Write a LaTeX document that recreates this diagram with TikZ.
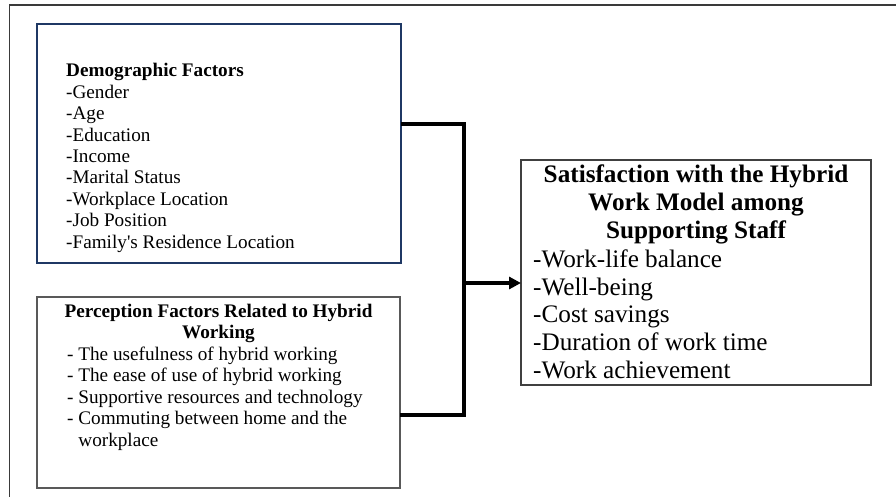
\documentclass[tikz,border=0pt]{standalone}
\usepackage{fontspec}
\setmainfont{Liberation Serif}
\usetikzlibrary{arrows.meta}

\definecolor{frameGray}{HTML}{3A3A3A}
\definecolor{demoBlue}{HTML}{1F3864}
\definecolor{percGray}{HTML}{595959}
\definecolor{satGray}{HTML}{404040}

\tikzset{
  box/.style={draw, rectangle, inner sep=0pt, outer sep=0pt},
  small/.style={inner sep=0pt, font=\fontsize{19.2}{21.4}\selectfont},
  smalltitle/.style={inner sep=0pt, font=\fontsize{19.2}{20.6}\selectfont\bfseries},
  large/.style={inner sep=0pt, font=\fontsize{25.2}{27.6}\selectfont},
  largetitle/.style={inner sep=0pt, font=\fontsize{25.2}{27.7}\selectfont\bfseries},
  conn/.style={draw=black, line width=3.2pt},
  tip/.style={-{Triangle[length=12pt,width=12pt]}}
}

\begin{document}
\begin{tikzpicture}[x=1pt, y=-1pt]
  \useasboundingbox (0,0) rectangle (896,497);

  % page frame (top and left rules)
  \draw[frameGray, line width=1pt] (9.5,497) -- (9.5,5);
  \draw[frameGray, line width=1.8pt] (9,5) -- (896,5);

  % the three boxes
  \node[box, draw=demoBlue, line width=1.6pt, minimum width=364pt, minimum height=239pt] (demo) at (219,143.5) {};
  \node[box, draw=percGray, line width=1.8pt, minimum width=363pt, minimum height=191pt] (perc) at (218.5,392.5) {};
  \node[box, draw=satGray, line width=1.2pt, minimum width=350pt, minimum height=225pt] (sat) at (696,272.5) {};

  % demographic factors
  \node[small, anchor=base west] (demotext) at (66,77) {\begin{tabular}[t]{@{}l@{}}
    \textbf{Demographic Factors}\\
    -Gender\\
    -Age\\
    -Education\\
    -Income\\
    -Marital Status\\
    -Workplace Location\\
    -Job Position\\
    -Family\textquotesingle s Residence Location
  \end{tabular}};

  % perception factors
  \node[smalltitle, anchor=base] (perctitle) at (218.5,317.7) {\begin{tabular}[t]{@{}c@{}}
    Perception Factors Related to Hybrid\\
    Working
  \end{tabular}};
  \node[small, anchor=base west, font=\fontsize{19.2}{21.6}\selectfont] (percitems) at (67,360) {\begin{tabular}[t]{@{}l@{}}
    - The usefulness of hybrid working\\
    - The ease of use of hybrid working\\
    - Supportive resources and technology\\
    - Commuting between home and the\\
    \hphantom{- }workplace
  \end{tabular}};

  % satisfaction outcome
  \node[largetitle, anchor=base] (sattitle) at (696,182.7) {\begin{tabular}[t]{@{}c@{}}
    Satisfaction with the Hybrid\\
    Work Model among\\
    Supporting Staff
  \end{tabular}};
  \node[large, anchor=base west] (satitems) at (533,267.7) {\begin{tabular}[t]{@{}l@{}}
    -Work-life balance\\
    -Well-being\\
    -Cost savings\\
    -Duration of work time\\
    -Work achievement
  \end{tabular}};

  % bracket joining both factor boxes, with the arrow to the outcome
  \coordinate (jn) at (464,283);
  \draw[conn] ([yshift=19.5pt]demo.east) -| (jn) |- ([yshift=-22.5pt]perc.east);
  \draw[conn, tip] (jn) -- (jn -| sat.west);
\end{tikzpicture}
\end{document}
